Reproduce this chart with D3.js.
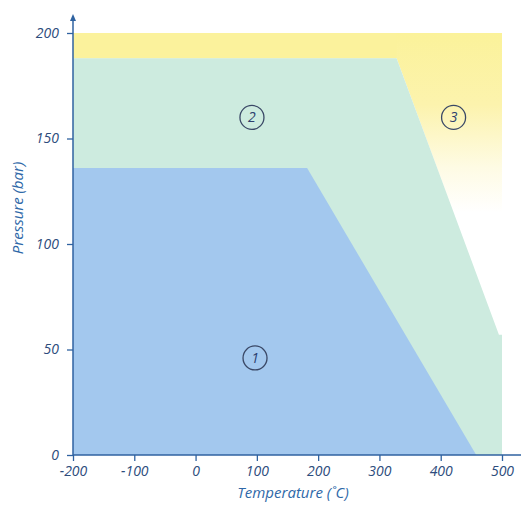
<!DOCTYPE html>
<html><head><meta charset="utf-8">
<script src="https://cdn.jsdelivr.net/npm/d3@7"></script>
<style>body{margin:0;background:#fff}svg{display:block}</style>
</head><body>
<script>
// Data (temperature °C, pressure bar)
const xTicks = [-200,-100,0,100,200,300,400,500];
const yTicks = [0,50,100,150,200];
const region3 = [[-200,200],[500,200],[500,57],[495,57],[328,188],[-200,188]];
const region2 = [[-200,0],[-200,188],[328,188],[495,57],[500,57],[500,0]];
const region1 = [[-200,0],[-200,136],[182,136],[458,0]];
const labels = [{n:"1",t:97,p:46},{n:"2",t:92,p:160},{n:"3",t:421,p:160}];

const W=522,H=507;
const svg=d3.select("body").append("svg").attr("width",W).attr("height",H);
const x=d3.scaleLinear().domain([-200,500]).range([73,502]);
const y=d3.scaleLinear().domain([0,200]).range([455,33]);
const line=d3.line().x(d=>x(d[0])).y(d=>y(d[1]));

const defs=svg.append("defs");
const g3=defs.append("linearGradient").attr("id","g3").attr("gradientUnits","userSpaceOnUse")
  .attr("x1",0).attr("x2",0).attr("y1",y(200)).attr("y2",y(115));
g3.append("stop").attr("offset",0).attr("stop-color","#fbf29a");
g3.append("stop").attr("offset",0.4).attr("stop-color","#fcf3ad");
g3.append("stop").attr("offset",0.75).attr("stop-color","#fefbe4");
g3.append("stop").attr("offset",1).attr("stop-color","#ffffff");

svg.append("path").attr("d",line(region3)+"Z").attr("fill","url(#g3)");
svg.append("rect").attr("x",x(-200)).attr("y",y(200)).attr("width",x(328)-x(-200)).attr("height",y(188)-y(200)).attr("fill","#fbf29c");
svg.append("path").attr("d",line(region2)+"Z").attr("fill","#cdebdf");
svg.append("path").attr("d",line(region1)+"Z").attr("fill","#a3c8ee");

const axisCol="#2f62a0", txtCol="#2d4c7c";
const font="'Open Sans', sans-serif";
// axes
const xa=svg.append("g").attr("transform",`translate(0,${y(0)})`)
  .call(d3.axisBottom(x).tickValues(xTicks).tickSize(6).tickSizeOuter(0).tickFormat(d=>String(d)));
xa.select(".domain").remove();
xa.append("line").attr("x1",x(-200)).attr("x2",521).attr("stroke",axisCol).attr("stroke-width",1.5);
xa.selectAll(".tick line").attr("stroke",axisCol).attr("stroke-width",1.3);
xa.selectAll(".tick text").attr("fill",txtCol).attr("font-size",14).attr("dy","1em").attr("y",7);

const ya=svg.append("g").attr("transform",`translate(${x(-200)},0)`)
  .call(d3.axisLeft(y).tickValues(yTicks).tickSize(6).tickSizeOuter(0));
ya.select(".domain").remove();
ya.append("line").attr("y1",y(0)).attr("y2",20).attr("stroke",axisCol).attr("stroke-width",1.5);
ya.append("path").attr("d","M-3,21L0,14L3,21Z").attr("fill",axisCol);
ya.selectAll(".tick line").attr("stroke",axisCol).attr("stroke-width",1.3);
ya.selectAll(".tick text").attr("fill",txtCol).attr("font-size",14).attr("x",-14);
svg.selectAll(".tick text").attr("font-family",font).attr("font-style","italic");

svg.append("text").attr("x",293).attr("y",498).attr("text-anchor","middle")
  .attr("font-family",font).attr("font-style","italic").attr("font-size",15)
  .attr("fill","#2e68a8").text("Temperature (˚C)");
svg.append("text").attr("transform",`translate(23,208) rotate(-90)`).attr("text-anchor","middle")
  .attr("font-family",font).attr("font-style","italic").attr("font-size",15)
  .attr("fill","#2e68a8").text("Pressure (bar)");

const lg=svg.selectAll(".lab").data(labels).join("g").attr("transform",d=>`translate(${x(d.t)},${y(d.p)})`);
lg.append("circle").attr("r",12).attr("fill","none").attr("stroke","#3a4866").attr("stroke-width",1.3);
lg.append("text").attr("text-anchor","middle").attr("dy","0.36em").attr("font-size",14)
  .attr("font-family",font).attr("font-style","italic").attr("fill","#2d3f6e").text(d=>d.n);
</script>
</body></html>
